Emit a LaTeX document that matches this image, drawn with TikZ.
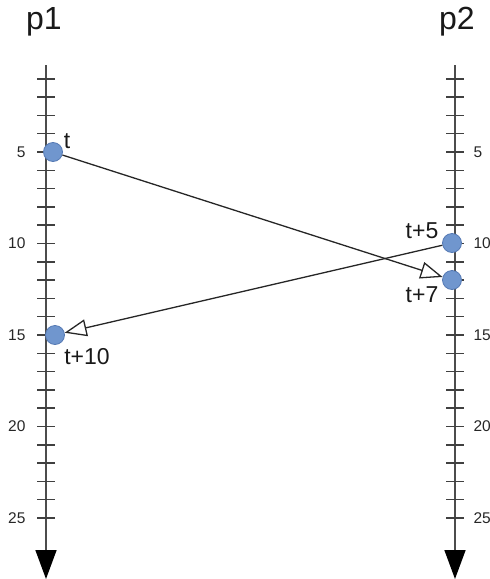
\documentclass[tikz,border=0pt]{standalone}
\usepackage{fontspec}
\setmainfont{Liberation Sans}
\usetikzlibrary{arrows.meta, positioning}
\definecolor{dotblue}{RGB}{112,150,206}
\definecolor{dotedge}{RGB}{86,122,180}

\begin{document}
\begin{tikzpicture}[x=1pt, y=-1pt,
  proc/.style={font=\fontsize{32}{32}\selectfont, text=black!90},
  tlabel/.style={font=\fontsize{23}{23}\selectfont, text=black!90},
  num/.style={font=\fontsize{15.5}{15.5}\selectfont, text=black!85},
  event/.style={circle, fill=dotblue, draw=dotedge, line width=0.8pt, minimum size=19pt, inner sep=0pt},
  timeline/.style={line width=1.6pt, draw=black!70, -{Triangle[length=29pt, width=21pt, color=black]}},
  tick/.style={line width=1.5pt, draw=black!75},
  msg/.style={line width=1.3pt, draw=black!85, -{Triangle[open, length=22pt, width=17pt, line width=1.3pt]}}
]
  \useasboundingbox (0,0) rectangle (490,579);

  % process names
  \node[proc] (p1) at (44,22) {p1};
  \node[proc] (p2) at (457,22) {p2};

  % time lines with ticks
  \draw[timeline] (46,65) -- (46,579);
  \draw[timeline] (455,65) -- (455,579);
  \foreach \k in {1,...,25} {
    \pgfmathsetmacro\ty{60.5+18.3*\k}
    \draw[tick] (37,\ty) -- (55,\ty);
    \draw[tick] (446,\ty) -- (464,\ty);
  }
  \foreach \k in {5,10,...,25} {
    \pgfmathsetmacro\ty{60.5+18.3*\k}
    \node[num, anchor=east] at (29,\ty) {\k};
    \node[num, anchor=west] at (470,\ty) {\k};
  }

  % events
  \node[event] (send1) at (53,152) {};
  \node[event] (send2) at (452,243) {};
  \node[event] (recv1) at (452,280) {};
  \node[event] (recv2) at (55,335) {};

  \node[tlabel] (lsend1) at (67,141) {t};
  \node[tlabel] (lsend2) at (422,231) {t+5};
  \node[tlabel] (lrecv1) at (422,295) {t+7};
  \node[tlabel] (lrecv2) at (87,357) {t+10};

  % messages
  \draw[msg] (send1) -- (recv1);
  \draw[msg] (send2) -- (recv2);
\end{tikzpicture}
\end{document}
